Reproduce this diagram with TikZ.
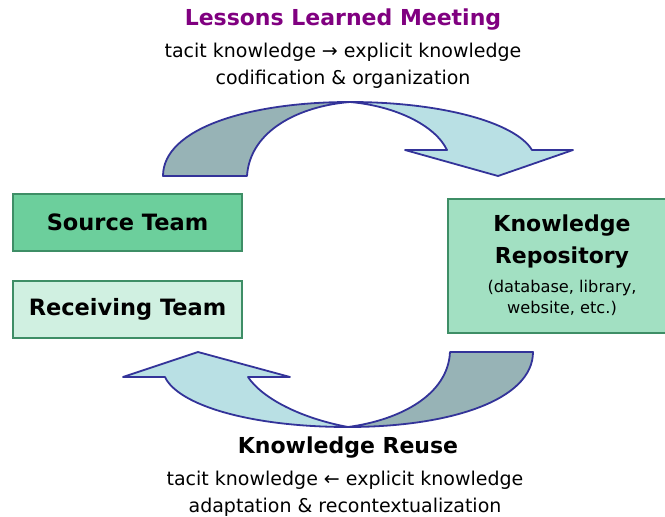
\documentclass[tikz,border=0pt]{standalone}
\usepackage{fontspec}
\setmainfont{DejaVu Sans}
\begin{document}
\begin{tikzpicture}[x=1pt,y=-1pt,
  outl/.style={draw=arrowblue,line width=1.8pt,line join=round},
  tbox/.style={draw=boxgreen,line width=2pt,inner sep=0pt,align=center},
  hd/.style={font=\fontsize{22}{26}\selectfont\bfseries},
  sub/.style={font=\fontsize{19}{24}\selectfont,align=center}]
\definecolor{arrowblue}{HTML}{333399}
\definecolor{boxgreen}{HTML}{3E8E66}
\definecolor{darkteal}{HTML}{97B3B6}
\definecolor{lightteal}{HTML}{B9E0E4}
\definecolor{srcfill}{HTML}{6CCF9C}
\definecolor{recfill}{HTML}{D0F0E1}
\definecolor{repfill}{HTML}{A2E0C2}
\definecolor{titlepurple}{HTML}{800080}
\useasboundingbox (0,0) rectangle (665,517);
\clip (0,0) rectangle (665,517);
% top curved arrow
\path[fill=lightteal,outl] (350,102) .. controls (440,102) and (515,122) .. (532,150)
  -- (573,150) -- (498,176) -- (405,150) -- (447,150)
  .. controls (435,125) and (395,106) .. (350,102) -- cycle;
\path[fill=darkteal,outl] (163,176) .. controls (163,128) and (250,102) .. (350,102)
  .. controls (300,106) and (250,130) .. (247,176) -- cycle;
% bottom curved arrow
\path[fill=lightteal,outl] (348,427) .. controls (250,427) and (178,405) .. (165,377)
  -- (123,377) -- (198,352) -- (290,377) -- (248,377)
  .. controls (262,398) and (300,418) .. (348,427) -- cycle;
\path[fill=darkteal,outl] (533,352) .. controls (533,400) and (450,427) .. (348,427)
  .. controls (400,420) and (448,395) .. (450,352) -- cycle;
% boxes
\node[tbox,fill=srcfill,minimum width=229pt,minimum height=57pt,font=\fontsize{22.5}{26}\selectfont\bfseries] (src) at (127.5,222.5) {Source Team};
\node[tbox,fill=recfill,minimum width=229pt,minimum height=57pt,font=\fontsize{22.5}{26}\selectfont\bfseries] (rec) at (127.5,309.5) {Receiving Team};
\node[tbox,fill=repfill,minimum width=228pt,minimum height=134pt] (rep) at (562,266) {};
\node[font=\fontsize{22}{32}\selectfont\bfseries,align=center] (reptitle) at (562,242) {Knowledge\\Repository};
\node[font=\fontsize{16.2}{21}\selectfont,align=center] (repsub) at (562,298) {(database, library,\\website, etc.)};
% top texts
\node[hd,text=titlepurple] (t1) at (343,20) {Lessons Learned Meeting};
\node[sub] (t2) at (343,52) {tacit knowledge → explicit knowledge};
\node[sub] (t3) at (343,79) {codification \& organization};
% bottom texts
\node[hd] (b1) at (348,448) {Knowledge Reuse};
\node[sub] (b2) at (345,480) {tacit knowledge ← explicit knowledge};
\node[sub] (b3) at (345,507) {adaptation \& recontextualization};
\end{tikzpicture}
\end{document}
